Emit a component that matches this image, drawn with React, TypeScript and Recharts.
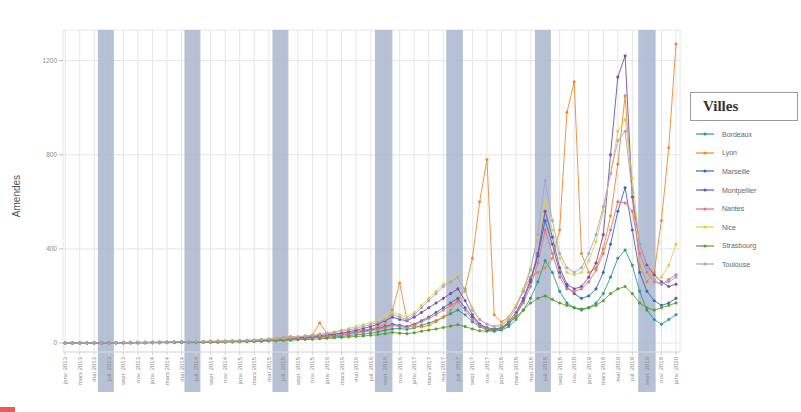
import React from "react";
import {
  LineChart,
  Line,
  XAxis,
  YAxis,
  CartesianGrid,
  ReferenceArea,
} from "recharts";

// Monthly periods, Jan 2013 -> Jan 2020
const monthNames = [
  "janv.", "févr.", "mars", "avr.", "mai", "juin",
  "juil.", "août", "sept.", "oct.", "nov.", "déc.",
];
const years = [2013, 2014, 2015, 2016, 2017, 2018, 2019];
const periods = [
  ...years.flatMap((y) => monthNames.map((m) => `${m} ${y}`)),
  "janv. 2020",
];

const cities = [
  "Bordeaux",
  "Lyon",
  "Marseille",
  "Montpellier",
  "Nantes",
  "Nice",
  "Strasbourg",
  "Toulouse",
];

const cityColors: Record<string, string> = {
  Bordeaux: "#2a9a8c",
  Lyon: "#ee8a2e",
  Marseille: "#3868bd",
  Montpellier: "#7050aa",
  Nantes: "#e8727e",
  Nice: "#e2cf45",
  Strasbourg: "#5c9e2c",
  Toulouse: "#a4a4d8",
};

const bordeaux = [
  0, 0, 0, 0, 1, 1, 1, 1, 2, 2,
  2, 2, 3, 3, 3, 4, 4, 4, 5, 5,
  6, 6, 7, 7, 8, 9, 10, 11, 12, 14,
  16, 18, 17, 20, 22, 26, 24, 26, 28, 32,
  35, 38, 42, 48, 55, 60, 62, 58, 65, 75,
  85, 95, 110, 125, 140, 120, 90, 70, 55, 50,
  55, 70, 100, 140, 190, 260, 350, 300, 220, 170,
  150, 140, 150, 170, 210, 280, 360, 395, 330, 220,
  140, 100, 80, 100, 120,
];

const lyon = [
  0, 0, 0, 1, 1, 1, 1, 2, 2, 2,
  3, 3, 3, 4, 4, 5, 5, 6, 6, 7,
  8, 8, 9, 10, 11, 12, 13, 15, 17, 20,
  24, 28, 26, 30, 34, 85, 40, 38, 42, 46,
  50, 55, 60, 68, 80, 140, 255, 100, 70, 68,
  75, 90, 110, 140, 180, 230, 360, 600, 780, 120,
  90, 110, 160, 220, 280, 300, 320, 360, 480, 980,
  1110, 380, 300, 320, 400, 540, 760, 1050, 620, 330,
  260, 300, 520, 830, 1270,
];

const marseille = [
  0, 0, 0, 0, 0, 1, 1, 1, 1, 2,
  2, 2, 2, 3, 3, 3, 4, 4, 5, 5,
  5, 6, 6, 7, 8, 8, 9, 10, 12, 14,
  16, 18, 20, 22, 24, 28, 30, 32, 36, 40,
  45, 50, 56, 62, 70, 80, 75, 70, 80, 95,
  110, 130, 150, 170, 190, 150, 110, 80, 60, 55,
  60, 80, 120, 180, 260, 370, 520, 420, 300, 240,
  210, 190, 200, 230, 300, 420, 560, 660, 480, 300,
  220, 180, 160, 170, 190,
];

const montpellier = [
  0, 0, 0, 0, 0, 1, 1, 1, 1, 1,
  2, 2, 2, 2, 3, 3, 3, 4, 4, 5,
  5, 6, 6, 7, 8, 9, 10, 11, 13, 15,
  18, 20, 22, 25, 28, 32, 35, 38, 42, 48,
  55, 62, 70, 80, 95, 110, 100, 95, 110, 130,
  150, 170, 190, 210, 230, 180, 120, 80, 65, 60,
  65, 90, 130, 190, 270, 380, 560, 450, 320, 250,
  230, 240, 280, 340, 460, 800, 1130, 1220, 620, 420,
  330, 290, 260, 240, 250,
];

const nantes = [
  0, 0, 0, 0, 0, 0, 1, 1, 1, 1,
  1, 2, 2, 2, 2, 3, 3, 3, 4, 4,
  4, 5, 5, 6, 6, 7, 8, 9, 10, 12,
  14, 16, 18, 20, 22, 25, 28, 30, 34, 38,
  42, 46, 52, 58, 65, 75, 70, 65, 75, 90,
  105, 120, 140, 160, 175, 140, 100, 75, 60, 55,
  60, 85, 120, 170, 240, 340, 480, 380, 280, 230,
  220, 230, 260, 310, 380, 480, 600, 595, 560, 380,
  300, 260, 250, 270, 290,
];

const nice = [
  0, 0, 0, 0, 0, 1, 1, 1, 1, 2,
  2, 2, 3, 3, 3, 4, 4, 5, 5, 6,
  6, 7, 8, 9, 10, 11, 12, 14, 16, 18,
  20, 24, 28, 30, 34, 40, 44, 48, 55, 62,
  70, 78, 86, 95, 110, 130, 120, 110, 130, 160,
  190, 220, 250, 270, 290, 220, 150, 100, 80, 70,
  80, 110, 160, 230, 320, 450, 600, 480, 360, 300,
  290, 300, 350, 430, 560, 720, 900, 950, 700, 420,
  320, 270, 280, 330, 420,
];

const strasbourg = [
  0, 0, 0, 0, 0, 0, 1, 1, 1, 1,
  1, 1, 2, 2, 2, 2, 3, 3, 3, 4,
  4, 4, 5, 5, 6, 6, 7, 8, 9, 10,
  11, 12, 14, 15, 16, 18, 20, 22, 24, 26,
  28, 30, 33, 36, 40, 45, 42, 40, 44, 50,
  55, 60, 66, 72, 78, 70, 60, 52, 50, 55,
  65, 85, 110, 140, 170, 190, 200, 185, 170, 160,
  150, 145, 150, 160, 180, 210, 230, 240, 210, 170,
  150, 140, 150, 160, 170,
];

const toulouse = [
  0, 0, 0, 0, 1, 1, 1, 1, 2, 2,
  2, 3, 3, 3, 4, 4, 5, 5, 6, 6,
  7, 8, 8, 9, 10, 11, 12, 14, 16, 18,
  20, 23, 26, 29, 32, 36, 40, 44, 50, 56,
  62, 70, 78, 88, 100, 120, 110, 100, 120, 150,
  180, 210, 240, 260, 280, 220, 140, 100, 80, 70,
  75, 100, 150, 220, 310, 460, 690, 520, 380, 320,
  300, 320, 380, 460, 580, 720, 860, 900, 640, 420,
  320, 270, 250, 260, 280,
];

const seriesByCity: Record<string, number[]> = {
  Bordeaux: bordeaux,
  Lyon: lyon,
  Marseille: marseille,
  Montpellier: montpellier,
  Nantes: nantes,
  Nice: nice,
  Strasbourg: strasbourg,
  Toulouse: toulouse,
};

// shaded periods, in month index units
const highlightPeriods = [
  [4.5, 6.7],
  [16.4, 18.6],
  [28.5, 30.7],
  [42.6, 45.0],
  [52.4, 54.7],
  [64.6, 66.8],
  [78.8, 81.2],
];

const yTicks = [0, 400, 800, 1200];

const data = periods.map((period, i) => {
  const row: Record<string, number | string> = { idx: i, period };
  cities.forEach((c) => {
    row[c] = seriesByCity[c][i];
  });
  return row;
});

// one label every two months
const xTicks = periods.map((_, i) => i).filter((i) => i % 2 === 0);

const PeriodTick = (props: any) => {
  const { x, y, payload } = props;
  return (
    <text
      x={x}
      y={y}
      transform={`rotate(-90 ${x} ${y})`}
      textAnchor="end"
      dy={2}
      fontSize={6}
      fill="#8a8a8a"
      fontFamily="Liberation Sans, Arial, sans-serif"
    >
      {periods[payload.value]}
    </text>
  );
};

const AxisTitle = () => (
  <text
    x={20}
    y={196}
    transform="rotate(-90 20 196)"
    textAnchor="middle"
    fontSize={10}
    fill="#555"
    fontFamily="Liberation Sans, Arial, sans-serif"
  >
    Amendes
  </text>
);

const CityLegend = () => (
  <div
    style={{
      position: "absolute",
      left: 690,
      top: 92,
      width: 108,
      fontFamily: "Liberation Sans, Arial, sans-serif",
    }}
  >
    <div
      style={{
        border: "1px solid #9a9a9a",
        height: 29,
        boxSizing: "border-box",
        paddingLeft: 12,
        fontFamily: "Liberation Serif, serif",
        fontWeight: "bold",
        fontSize: 15,
        lineHeight: "27px",
        color: "#333",
      }}
    >
      Villes
    </div>
    <div style={{ marginTop: 4 }}>
      {cities.map((c) => (
        <div
          key={c}
          style={{
            display: "flex",
            alignItems: "center",
            height: 18.6,
            fontSize: 7,
            color: "#666",
          }}
        >
          <svg width={26} height={8} style={{ marginLeft: 4 }}>
            <line x1={2} y1={4} x2={20} y2={4} stroke={cityColors[c]} strokeWidth={1.2} />
            <circle cx={11} cy={4} r={1.6} fill={cityColors[c]} />
          </svg>
          <span style={{ marginLeft: 2 }}>{c}</span>
        </div>
      ))}
    </div>
  </div>
);

export default function App() {
  return (
    <div
      style={{
        position: "absolute",
        left: 0,
        top: 0,
        width: 801,
        height: 412,
        background: "#fff",
      }}
    >
      <LineChart
        width={801}
        height={412}
        data={data}
        margin={{ top: 30, right: 121, bottom: 20, left: 0 }}
      >
        <CartesianGrid stroke="#e6e6ea" strokeWidth={1} />
        {highlightPeriods.map(([a, b], i) => (
          <ReferenceArea
            key={`band-${i}`}
            x1={a}
            x2={b}
            y1={-208}
            y2={1330}
            ifOverflow="visible"
            fill="#a9b6ce"
            fillOpacity={0.85}
            stroke="none"
          />
        ))}
        <XAxis
          dataKey="idx"
          type="number"
          domain={[-0.3, 84.55]}
          ticks={xTicks}
          interval={0}
          allowDataOverflow
          height={40}
          tick={<PeriodTick />}
          tickSize={3}
          tickLine={{ stroke: "#cfcfcf" }}
          axisLine={{ stroke: "#dedede" }}
        />
        <YAxis
          type="number"
          domain={[-38, 1330]}
          ticks={yTicks}
          allowDataOverflow
          width={63}
          tickSize={4}
          tickLine={{ stroke: "#bdbdbd" }}
          axisLine={false}
          tick={{ fontSize: 6.5, fill: "#888", fontFamily: "Liberation Sans, Arial, sans-serif" }}
          label={<AxisTitle />}
        />
        {cities.map((c) => (
          <Line
            key={c}
            type="linear"
            dataKey={c}
            stroke={cityColors[c]}
            strokeWidth={1}
            strokeOpacity={0.9}
            dot={{ r: 1.3, fill: cityColors[c], stroke: cityColors[c], strokeWidth: 0.5 }}
            isAnimationActive={false}
          />
        ))}
      </LineChart>
      <CityLegend />
      <div
        style={{
          position: "absolute",
          left: 0,
          top: 407,
          width: 15,
          height: 5,
          background: "#e85c5c",
        }}
      />
    </div>
  );
}
